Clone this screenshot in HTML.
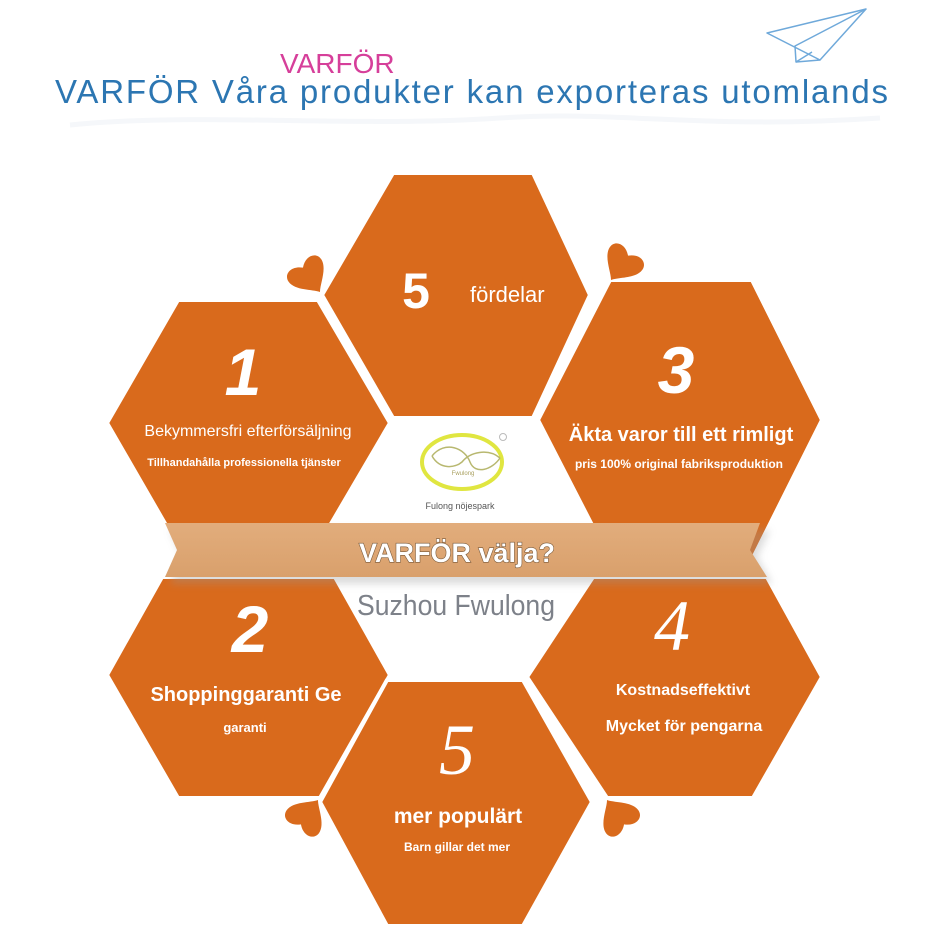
<!DOCTYPE html>
<html><head><meta charset="utf-8"><style>
html,body{margin:0;padding:0;background:#fff;}
svg{display:block;}
text{font-family:"Liberation Sans",sans-serif;}
</style></head><body>
<svg width="950" height="942" viewBox="0 0 950 942" xmlns="http://www.w3.org/2000/svg">
<defs>
<linearGradient id="band" x1="0" y1="0" x2="0" y2="1">
<stop offset="0" stop-color="#e2ad7c"/><stop offset="1" stop-color="#d9a06c"/>
</linearGradient>
<filter id="sh" x="-10%" y="-50%" width="120%" height="200%"><feGaussianBlur stdDeviation="4"/></filter>
</defs>
<path d="M70 125 C200 112 350 128 500 118 C620 110 700 130 880 118" stroke="#f5f7fa" stroke-width="5" fill="none"/>
<text x="280" y="73" font-size="28" fill="#d63f9a">VARFÖR</text>
<text x="55" y="103" font-size="33" fill="#2c76b2" textLength="833" lengthAdjust="spacing">VARFÖR Våra produkter kan exporteras utomlands</text>
<g stroke="#6fa9da" stroke-width="1.5" fill="none" stroke-linejoin="round">
<path d="M767 33 L866 9 L820 60 Z"/>
<path d="M866 9 L795 46 L796 62 L812 52"/>
<path d="M796 62 L820 60"/>
</g>
<g fill="#d96a1c" stroke="#fff" stroke-width="4" stroke-linejoin="round">
<polygon points="393,173 533,173 590,295 533,418 393,418 322,295"/>
<polygon points="178,300 318,300 390,423 318,546 178,546 107,423"/>
<polygon points="610,280 752,280 822,420 752,560 610,560 538,420"/>
<polygon points="162,577 335,577 390,675 320,798 178,798 107,675"/>
<polygon points="593,577 767,577 822,677 753,798 607,798 527,677"/>
<polygon points="387,680 523,680 592,802 523,926 387,926 320,802"/>
</g>
<polygon points="170,530 770,530 757,557 772,584 170,584 182,557" fill="#999" opacity="0.35" filter="url(#sh)"/>
<polygon points="165,523 760,523 750,550 767,577 165,577 177,550" fill="url(#band)"/>
<g fill="#d96a1c">
<path transform="translate(320,292) rotate(-35) scale(1.1)" d="M0,0 C-4,-6 -18,-14 -18,-24 C-18,-32 -8,-35 0,-27 C8,-35 18,-32 18,-24 C18,-14 4,-6 0,0Z"/>
<path transform="translate(611,280) rotate(35) scale(1.1)" d="M0,0 C-4,-6 -18,-14 -18,-24 C-18,-32 -8,-35 0,-27 C8,-35 18,-32 18,-24 C18,-14 4,-6 0,0Z"/>
<path transform="translate(318,800) rotate(215) scale(1.1)" d="M0,0 C-4,-6 -18,-14 -18,-24 C-18,-32 -8,-35 0,-27 C8,-35 18,-32 18,-24 C18,-14 4,-6 0,0Z"/>
<path transform="translate(607,800) rotate(145) scale(1.1)" d="M0,0 C-4,-6 -18,-14 -18,-24 C-18,-32 -8,-35 0,-27 C8,-35 18,-32 18,-24 C18,-14 4,-6 0,0Z"/>
</g>
<ellipse cx="462" cy="462" rx="40" ry="27" fill="none" stroke="#e0e640" stroke-width="4"/>
<path d="M432 456 C445 440 465 448 470 462 C475 475 492 470 500 458" stroke="#b8b870" stroke-width="1.5" fill="none"/>
<path d="M432 456 C440 470 455 468 462 462 C470 452 488 448 500 458" stroke="#b8b870" stroke-width="1.5" fill="none"/>
<text x="463" y="475" font-size="6" fill="#aaa060" text-anchor="middle">Fwulong</text>
<circle cx="503" cy="437" r="3.5" fill="none" stroke="#bbb" stroke-width="1"/>
<text x="460" y="509" font-size="9" fill="#555" text-anchor="middle">Fulong nöjespark</text>
<text x="457" y="562" font-size="27" font-weight="bold" fill="#fff" stroke="#7a5a3a" stroke-width="1.2" paint-order="stroke" text-anchor="middle">VARFÖR välja?</text>
<text x="456" y="615" font-size="29" fill="#7d8189" text-anchor="middle" textLength="198" lengthAdjust="spacingAndGlyphs">Suzhou Fwulong</text>
<text x="416" y="308" font-size="50" font-weight="bold" fill="#fff" text-anchor="middle">5</text>
<text x="470" y="302" font-size="22" fill="#fff">fördelar</text>
<text x="243" y="395" font-size="66" font-style="italic" font-weight="bold" fill="#fff" text-anchor="middle">1</text>
<text x="248" y="436" font-size="16" fill="#fff" text-anchor="middle">Bekymmersfri efterförsäljning</text>
<text x="244" y="466" font-size="11" font-weight="bold" fill="#fff" text-anchor="middle">Tillhandahålla professionella tjänster</text>
<text x="676" y="393" font-size="66" font-style="italic" font-weight="bold" fill="#fff" text-anchor="middle">3</text>
<text x="681" y="441" font-size="20" font-weight="bold" fill="#fff" text-anchor="middle">Äkta varor till ett rimligt</text>
<text x="679" y="468" font-size="12" font-weight="bold" fill="#fff" text-anchor="middle">pris 100% original fabriksproduktion</text>
<text x="250" y="652" font-size="66" font-style="italic" font-weight="bold" fill="#fff" text-anchor="middle">2</text>
<text x="246" y="701" font-size="20" font-weight="bold" fill="#fff" text-anchor="middle">Shoppinggaranti Ge</text>
<text x="245" y="732" font-size="13" font-weight="bold" fill="#fff" text-anchor="middle">garanti</text>
<text x="672" y="650" font-size="72" font-style="italic" fill="#fff" text-anchor="middle" style="font-family:'Liberation Serif',serif">4</text>
<text x="683" y="695" font-size="16" font-weight="bold" fill="#fff" text-anchor="middle">Kostnadseffektivt</text>
<text x="684" y="731" font-size="16" font-weight="bold" fill="#fff" text-anchor="middle">Mycket för pengarna</text>
<text x="457" y="774" font-size="72" font-style="italic" fill="#fff" text-anchor="middle" style="font-family:'Liberation Serif',serif">5</text>
<text x="458" y="823" font-size="21" font-weight="bold" fill="#fff" text-anchor="middle">mer populärt</text>
<text x="457" y="851" font-size="12" font-weight="bold" fill="#fff" text-anchor="middle">Barn gillar det mer</text>
</svg>
</body></html>
